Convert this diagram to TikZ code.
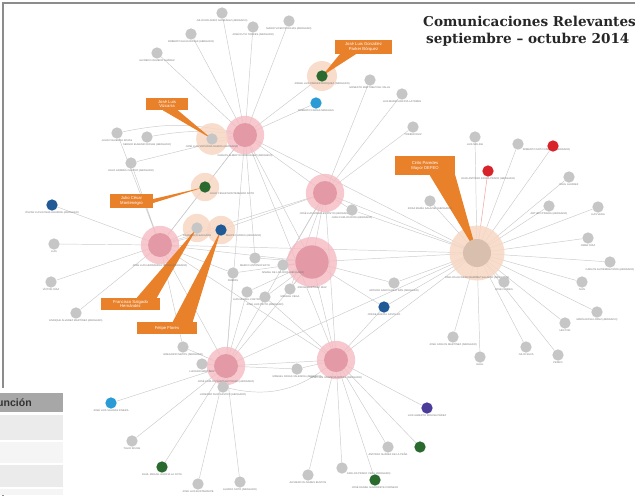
\documentclass[tikz,border=0pt]{standalone}
\usepackage{fontspec}
\setmainfont{Liberation Sans}
\newfontfamily\titlefont{DejaVu Serif}
\usetikzlibrary{backgrounds}

\definecolor{leafgray}{HTML}{C6C6C6}
\definecolor{edgegray}{HTML}{CBCBCB}
\definecolor{hubpink}{HTML}{E39AA6}
\definecolor{halopink}{HTML}{F5BAC2}
\definecolor{hubbeige}{HTML}{D9BFAE}
\definecolor{halopeach}{HTML}{F8D7C3}
\definecolor{calloutorange}{HTML}{E9802A}
\definecolor{nodeblue}{HTML}{1F5A96}
\definecolor{nodesky}{HTML}{2A9BD5}
\definecolor{nodegreen}{HTML}{2B6A2E}
\definecolor{nodered}{HTML}{D9232A}
\definecolor{nodepurple}{HTML}{4A3C98}
\definecolor{framegray}{HTML}{8C8C8C}
\definecolor{headgray}{HTML}{A7A7A7}
\definecolor{rowgray}{HTML}{EBEBEB}
\definecolor{rowlight}{HTML}{F5F5F5}

\begin{document}
\begin{tikzpicture}[
    x=0.03cm, y=-0.03cm,
    leaf/.style={circle, fill=leafgray, minimum size=0.34cm, inner sep=0pt},
    lbl/.style={font=\fontsize{2.2}{2.4}\selectfont, text=black!55, inner sep=0.4pt},
    hub/.style={circle, fill=hubpink, minimum size=0.72cm, inner sep=0pt},
    halo/.style={circle, fill=halopink, fill opacity=0.8, minimum size=1.15cm, inner sep=0pt},
    peach/.style={circle, fill=halopeach, fill opacity=0.85, minimum size=0.9cm, inner sep=0pt},
    edge/.style={draw=edgegray, line width=0.4pt},
    callout/.style={fill=calloutorange, text=white, font=\fontsize{3.6}{4.2}\selectfont, align=center, inner sep=1pt},
    wedge/.style={fill=calloutorange},
    titletext/.style={font=\titlefont\bfseries\fontsize{11.6}{14}\selectfont, text=black!85, inner sep=0pt}
]
\useasboundingbox (0,0) rectangle (635,495);
\clip (0,0) rectangle (635,495);

% frame and title
\draw[framegray, line width=1.6pt] (3,3) rectangle (760,640);
\node[titletext, anchor=base west] (title1) at (423,26) {Comunicaciones Relevantes};
\node[titletext, anchor=base west] (title2) at (426,43) {septiembre – octubre 2014};

% halos
\node[halo] (hAh) at (245,135) {};
\node[halo] (hBh) at (325,193) {};
\node[halo] (hCh) at (160,245) {};
\node[halo, minimum size=1.5cm] (hDh) at (312,262) {};
\node[halo] (hEh) at (226,366) {};
\node[halo] (hFh) at (336,360) {};
\node[peach, minimum size=1.65cm] (hGh) at (477,253) {};
\node[peach] (pAh) at (322,76) {};
\node[peach, minimum size=0.95cm] (pBh) at (212,139) {};
\node[peach, minimum size=0.85cm] (pCh) at (205,187) {};
\node[peach, minimum size=0.85cm] (pDh) at (197,228) {};
\node[peach, minimum size=0.85cm] (pEh) at (221,230) {};

% callouts
\node[callout, minimum width=1.71cm, minimum height=0.42cm] (cA) at (363.5,47) {José Luis González\\Parker Bórquez};
\fill[wedge] ([xshift=0.15cm]cA.south west) -- ([xshift=0.63cm]cA.south west) -- (pAh.center) -- cycle;
\node[callout, minimum width=1.26cm, minimum height=0.36cm] (cB) at (167,104) {José Luis\\Vizcarra};
\fill[wedge] ([xshift=0.51cm]cB.south west) -- ([xshift=0.96cm]cB.south west) -- (pBh.center) -- cycle;
\node[callout, minimum width=1.29cm, minimum height=0.42cm] (cC) at (131.5,201) {Julio César\\Montenegro};
\fill[wedge] ([yshift=0.06cm]cC.east) -- ([yshift=-0.06cm]cC.east) -- (pCh.center) -- cycle;
\node[callout, minimum width=1.8cm, minimum height=0.57cm] (cD) at (425,165.5) {Cirilo Paredes\\Mayor DEFEO};
\fill[wedge] ([xshift=1.05cm]cD.south west) -- (cD.south east) -- (hGh.center) -- cycle;
\node[callout, minimum width=1.77cm, minimum height=0.36cm] (cE) at (130.5,304) {Francisco Salgado\\Hernández};
\fill[wedge] ([xshift=1.08cm]cE.north west) -- ([xshift=1.68cm]cE.north west) -- (pDh.center) -- cycle;
\node[callout, minimum width=1.8cm, minimum height=0.36cm] (cF) at (167,328) {Felipe Flores};
\fill[wedge] ([xshift=1.08cm]cF.north west) -- ([xshift=1.68cm]cF.north west) -- (pEh.center) -- cycle;

% hubs
\node[hub, label={[lbl, label distance=0.18cm]below:CARLOS ALBERTO RODRÍGUEZ (ABOGADO)}] (hA) at (245,135) {};
\node[hub, label={[lbl, label distance=0.18cm]below:JOSÉ LUIS MORALES PINTO (ABOGADO)}] (hB) at (325,193) {};
\node[hub, label={[lbl, label distance=0.18cm]below:JOSÉ LUIS HERNÁNDEZ ROJAS (ABOGADO)}] (hC) at (160,245) {};
\node[hub, minimum size=1.0cm, label={[lbl, label distance=0.2cm]below:JORGE MARTÍNEZ DÍAZ}] (hD) at (312,262) {};
\node[hub, label={[lbl, label distance=0.04cm]below:JOSÉ CARLOS VÁSQUEZ PRADO (ABOGADO)}] (hE) at (226,366) {};
\node[hub, label={[lbl, label distance=0.1cm]below:JOSÉ LUIS VALENCIA ROSAS (ABOGADO)}] (hF) at (336,360) {};
\node[hub, fill=hubbeige, minimum size=0.84cm, label={[lbl, label distance=0.25cm]below:CARLOS ALFREDO RAMÍREZ SALAZAR (ABOGADO)}] (hG) at (477,253) {};

% peach-marked nodes
\node[leaf, fill=nodegreen, label={[lbl]below:JORGE LUIS PARKER BÓRQUEZ (ABOGADO)}] (pA) at (322,76) {};
\node[leaf, label={[lbl]below:JOSÉ LUIS VIZCARRA RAMOS (ABOGADO)}] (pB) at (212,139) {};
\node[leaf, fill=nodegreen, label={[lbl]below right:JULIO CÉSAR MONTENEGRO SOTO}] (pC) at (205,187) {};
\node[leaf, label={[lbl]below:FRANCISCO SALGADO}] (pD) at (197,228) {};
\node[leaf, fill=nodeblue, label={[lbl]below right:FELIPE FLORES (ABOGADO)}] (pE) at (221,230) {};

% top leaves
\node[leaf, label={[lbl]below:JULIO ROLANDO GONZÁLEZ (ABOGADO)}] (t1) at (222,13) {};
\node[leaf, label={[lbl]below:JOSÉ RUTH TORRES (ABOGADO)}] (t2) at (253,27) {};
\node[leaf, label={[lbl]below:MARIO VICENTE ROJAS (ABOGADO)}] (t3) at (289,21) {};
\node[leaf, label={[lbl]below:ROBERTO ELÍAS ROSAS (ABOGADO)}] (t4) at (191,34) {};
\node[leaf, label={[lbl]below:ALFREDO OLMEDO SUÁREZ}] (t5) at (157,53) {};
\node[leaf, fill=nodesky, label={[lbl]below:ROBERTO FARÍAS MORALES}] (b1) at (316,103) {};
\node[leaf, label={[lbl]below:ERNESTO MARTÍNEZ DEL VALLE}] (r1) at (370,80) {};
\node[leaf, label={[lbl]below:LUIS MARIO ARCAYA LATORRE}] (r2) at (402,94) {};
\node[leaf, label={[lbl]below:TORIBIO RUIZ}] (r3) at (413,127) {};
\node[leaf, label={[lbl]below:LUIS MOLINA}] (r4) at (475,137) {};
\node[leaf, label={[lbl]below right:ROBERTO SOTO VARGAS (ABOGADO)}] (r5) at (518,144) {};
\node[leaf, fill=nodered] (rd1) at (553,146) {};
\node[leaf, fill=nodered, label={[lbl]below:JUAN ANTONIO ROJAS PRADO (ABOGADO)}] (rd2) at (488,171) {};

% left leaves
\node[leaf, label={[lbl]below:JULIO FIGUEROA ROJAS}] (l1) at (117,133) {};
\node[leaf, label={[lbl]below:SERGIO EUGENIO ROSAS (ABOGADO)}] (l2) at (147,137) {};
\node[leaf, label={[lbl]below:JULIO ANDRÉS CASTRO (ABOGADO)}] (l3) at (131,163) {};
\node[leaf, fill=nodeblue, label={[lbl]below:ÓSCAR LUIS ROSAS AGUIRRE (ABOGADO)}] (w1) at (52,205) {};
\node[leaf, label={[lbl]below:LUIS}] (w2) at (54,244) {};
\node[leaf, label={[lbl]below:VÍCTOR DÍAZ}] (w3) at (51,282) {};
\node[leaf, label={[lbl]below:ENRIQUE ÁLVAREZ MARTÍNEZ (ABOGADO)}] (w4) at (76,313) {};

% right leaves
\node[leaf, label={[lbl]below:RAÚL ALVAREZ}] (g1) at (569,177) {};
\node[leaf, label={[lbl]below:ARTURO PINEDA (ABOGADO)}] (g2) at (549,206) {};
\node[leaf, label={[lbl]below:LUIS VERA}] (g3) at (598,207) {};
\node[leaf, label={[lbl]below:OMAR DÍAZ}] (g4) at (588,238) {};
\node[leaf, label={[lbl]below:CARLOS GUTIÉRREZ RÍOS (ABOGADO)}] (g5) at (610,262) {};
\node[leaf, label={[lbl]below:IVÁN}] (g6) at (582,282) {};
\node[leaf, label={[lbl]below:JOSÉ FLORES}] (g7) at (504,282) {};
\node[leaf, label={[lbl]below:MARÍA ROSA LÓPEZ (ABOGADO)}] (g8) at (597,312) {};
\node[leaf, label={[lbl]below:HÉCTOR}] (g9) at (565,323) {};
\node[leaf, label={[lbl]below:JULIO SILVA}] (g10) at (526,347) {};
\node[leaf, label={[lbl]below:PEDRO}] (g11) at (558,355) {};
\node[leaf, label={[lbl]below:RAÚL}] (g12) at (480,357) {};
\node[leaf, label={[lbl]below:JOSÉ CARLOS MARTÍNEZ (ABOGADO)}] (g13) at (453,337) {};
\node[leaf, label={[lbl]below:ROSA MARÍA SALAZAR (ABOGADO)}] (m1) at (430,201) {};
\node[leaf, label={[lbl]below:ARTURO GARCÍA BELTRÁN (ABOGADO)}] (m2) at (394,283) {};
\node[leaf, fill=nodeblue, label={[lbl]below:JORGE GARCÍA CASTILLO}] (m3) at (384,307) {};
\node[leaf, label={[lbl]below:JUAN CARLOS RÍOS (ABOGADO)}] (m4) at (352,210) {};

% centre leaves
\node[leaf, label={[lbl]below:MARCO ANTONIO SOTO}] (s1) at (255,258) {};
\node[leaf, label={[lbl]below:PAMPAS}] (s2) at (233,273) {};
\node[leaf, label={[lbl]below:LUIS MIGUEL CASTRO}] (s3) at (247,292) {};
\node[leaf, label={[lbl]below:JOSÉ LUIS PINTO (ABOGADO)}] (s4) at (265,297) {};
\node[leaf, label={[lbl]below:MANUEL VEGA}] (s5) at (290,289) {};
\node[leaf, label={[lbl]below:ISMAEL DE LOS RÍOS (ABOGADO)}] (s6) at (283,265) {};

% bottom leaves
\node[leaf, label={[lbl]below:GREGORIO MATOS (ABOGADO)}] (e1) at (183,347) {};
\node[leaf, label={[lbl]below:LUCIANO MARTÍNEZ}] (e2) at (202,364) {};
\node[leaf, label={[lbl]below:LORENZO RUIZ CASTRO (ABOGADO)}] (e3) at (223,387) {};
\node[leaf, label={[lbl]below:MANUEL ROJAS VALENCIA (ABOGADO)}] (e4) at (297,369) {};
\node[leaf, fill=nodesky, label={[lbl]below:JOSÉ LUIS SALINAS RIVERA}] (sk2) at (111,403) {};
\node[leaf, label={[lbl]below:TULIO ROJAS}] (e5) at (132,441) {};
\node[leaf, fill=nodegreen, label={[lbl]below:RAÚL MIGUEL GARCÍA LA COTA}] (gr1) at (162,467) {};
\node[leaf, label={[lbl]below:JOSÉ LUIS BUSTAMANTE}] (e6) at (198,484) {};
\node[leaf, label={[lbl]below:ALVARO SOTO (ABOGADO)}] (e7) at (240,482) {};
\node[leaf, label={[lbl]below:ALFREDO OLIVARES BUSTOS}] (f1) at (308,475) {};
\node[leaf, label={[lbl]below right:CARLOS PRADO VERA (ABOGADO)}] (f2) at (342,468) {};
\node[leaf, fill=nodegreen, label={[lbl]below:JOSÉ DANIEL NAVARRETE CORNEJO}] (gr2) at (375,480) {};
\node[leaf, label={[lbl]below:ANTONIO SUÁREZ DE LA PEÑA}] (f3) at (388,447) {};
\node[leaf, fill=nodegreen] (gr3) at (420,447) {};
\node[leaf, fill=nodepurple, label={[lbl]below:LUIS ALBERTO MOLINA PÉREZ}] (pu) at (427,408) {};

% table
\fill[white] (0,388) rectangle (66,495);
\fill[headgray] (0,393) rectangle (63,412);
\node[font=\bfseries\fontsize{9}{10}\selectfont, text=black!80, anchor=east, inner sep=0pt] (tabhead) at (32,403) {Función};
\fill[rowgray] (0,415) rectangle (63,440);
\fill[rowlight] (0,442) rectangle (63,463);
\fill[rowgray] (0,465) rectangle (63,487);
\fill[rowlight] (0,489) rectangle (63,495);

% connectors
\begin{scope}[on background layer]
\draw[edge] (hA) -- (t1) (hA) -- (t2) (hA) -- (t3) (hA) -- (t4) (hA) -- (t5);
\draw[edge] (hA) -- (b1) (hA) -- (pA) (hA) -- (pB) (hA) -- (pC) (hA) -- (l3) (hA) -- (s1);
\draw[edge] (l1) to[bend left=12] (hA);
\draw[edge] (l2) to[bend left=8] (hA);
\draw[edge] (hA) -- (hB) (hA) -- (hC) (hA) -- (hD) (hA) -- (hE) (hA) -- (hG) (hA) -- (hF);
\draw[edge] (hB) -- (r1) (hB) -- (r2) (hB) -- (r3) (hB) -- (m4) (hB) -- (pE) (hB) -- (s6) (hB) -- (s5);
\draw[edge] (hB) -- (hC) (hB) -- (hD) (hB) -- (hE) (hB) -- (hF) (hB) -- (hG);
\draw[edge] (hC) -- (w1) (hC) -- (w2) (hC) -- (w3) (hC) -- (w4) (hC) -- (l1) (hC) -- (l3);
\draw[edge] (hC) -- (pD) (hC) -- (pC) (hC) -- (s2) (hC) -- (pE) (hC) -- (e1);
\draw[edge] (hC) -- (hD) (hC) -- (hE) (hC) -- (hG) (hC) -- (hF);
\draw[edge] (hD) -- (s1) (hD) -- (s2) (hD) -- (s3) (hD) -- (s4) (hD) -- (s5) (hD) -- (s6);
\draw[edge] (hD) -- (m2) (hD) -- (m3) (hD) -- (hE) (hD) -- (hF) (hD) -- (hG);
\draw[edge] (hE) -- (sk2) (hE) -- (e5) (hE) -- (gr1) (hE) -- (e6) (hE) -- (e7);
\draw[edge] (hE) -- (e1) (hE) -- (e2) (hE) -- (e3) (hE) -- (e4) (hE) -- (s3) (hE) -- (s2);
\draw[edge] (hE) -- (hF) (hE) -- (hG);
\draw[edge] (e3) to[bend right=25] (hF);
\draw[edge] (hF) -- (e4) (hF) -- (f1) (hF) -- (f2) (hF) -- (gr2) (hF) -- (f3) (hF) -- (gr3);
\draw[edge] (hF) -- (pu) (hF) -- (m3) (hF) -- (s4) (hF) -- (hG);
\draw[edge] (hG) -- (r4) (hG) -- (r5) (hG) -- (rd1) (hG) -- (g1) (hG) -- (g2) (hG) -- (g3);
\draw[edge] (hG) -- (g4) (hG) -- (g5) (hG) -- (g6) (hG) -- (g7) (hG) -- (g8) (hG) -- (g9);
\draw[edge] (hG) -- (g10) (hG) -- (g11) (hG) -- (g12) (hG) -- (g13);
\draw[edge] (hG) -- (m1) (hG) -- (m2) (hG) -- (m4) (hG) -- (m3);
\draw[edge, draw=nodered!45] (hG) -- (rd2);
\end{scope}

\end{tikzpicture}
\end{document}
